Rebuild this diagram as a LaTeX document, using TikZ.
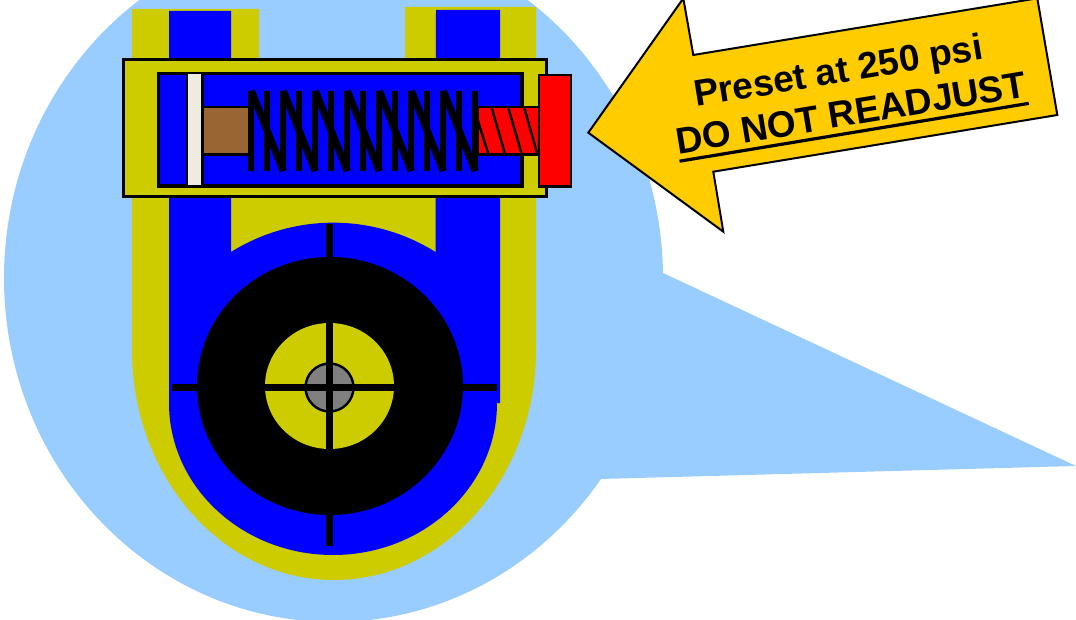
\documentclass[tikz,border=0pt]{standalone}
\usepackage{fontspec}
\setmainfont{Liberation Sans}
\usepackage{xcolor}
\usetikzlibrary{calc}
\definecolor{skyfill}{HTML}{99CCFF}
\definecolor{bodyyellow}{HTML}{CCCC00}
\definecolor{oilblue}{HTML}{0000FF}
\definecolor{tagorange}{HTML}{FFCC00}
\definecolor{rodbrown}{HTML}{996633}
\definecolor{pistonwhite}{HTML}{EEECE1}
\tikzset{
    housing/.style={draw=black, line width=2.6pt, fill=bodyyellow},
    chamber/.style={draw=black, line width=3.6pt, fill=oilblue},
    part/.style={draw=black, line width=2.4pt},
    coil/.style={black, line width=6.2pt},
    coildiag/.style={black, line width=7pt},
    thread/.style={black, line width=2.4pt},
    crosshair/.style={black, line width=7pt},
    tagtext/.style={font=\fontsize{37}{37}\selectfont\bfseries, inner xsep=0pt, inner ysep=6.5pt, rotate=9.4, anchor=base},
}

\begin{document}
\begin{tikzpicture}[x=1pt, y=-1pt]
    \clip (0,0) rectangle (1076,620);

    % Callout bubble
    \fill[skyfill] (333.5,278) circle[x radius=329.5, y radius=344];
    \fill[skyfill] (663,273) -- (1076,466) -- (600,479) -- (400,400) -- cycle;

    % Valve body
    \fill[bodyyellow] (132,9) -- (259,9) -- (259,60) -- (405,60) -- (405,7) -- (536,7) -- (536,350)
        arc[start angle=0, end angle=180, x radius=202, y radius=230] -- cycle;
    \fill[oilblue] (169,11) -- (231,11) -- (231,252) arc[start angle=-122, end angle=-58, radius=193]
        -- (436,10) -- (500,10) -- (500,403) -- (497,403)
        arc[start angle=0, end angle=180, x radius=164, y radius=152] -- cycle;

    % Rotor
    \fill[black] (330,386) circle[x radius=133, y radius=129];
    \fill[bodyyellow] (329.5,386) circle[x radius=64.5, y radius=63];
    \draw[part, fill=gray] (329.5,387.5) circle[radius=24];
    \draw[crosshair] (329,224) -- (329,546);
    \draw[crosshair] (171.5,387.3) -- (497,387.3);

    % Relief housing
    \draw[housing] (123.6,59.6) rectangle (546.6,196.4);
    \draw[chamber] (158.5,73.5) rectangle (522.2,185.9);
    \draw[part, fill=pistonwhite] (187,73) rectangle (202.5,186.5);
    \draw[part, fill=rodbrown] (202.5,107) rectangle (249,154.5);

    % Spring
    \foreach \k in {0,...,14} {
        \draw[coil] ({251+16*\k},90.7) -- ({251+16*\k},171);
    }
    \foreach \k in {0,2,...,12} {
        \draw[coildiag] ({251.3+16*\k},90.7) -- ({251.3+16*(\k+2)},171);
    }

    % Adjusting screw
    \draw[part, fill=red] (477.7,107) rectangle (539,154.5);
    \draw[thread] (477.7,120) -- (488.3,154);
    \draw[thread] (491.7,108) -- (505,154);
    \draw[thread] (508.3,108) -- (521.7,154);
    \draw[thread] (524.3,108) -- (537.3,154);
    \draw[part, fill=red] (539,75) rectangle (571,186.5);

    % Tag arrow
    \draw[black, line width=2pt, fill=tagorange, miter limit=10] (588.3,132.7) -- (683.3,-1.6) -- (693.3,55) -- (1037.3,-1.7)
        -- (1057.3,115) -- (713.3,171.7) -- (723.3,231.7) -- cycle;
    \node[tagtext] (preset) at (840.3,83) {Preset at 250 psi};
    \node[tagtext] (readjust) at (853,125.3) {DO NOT READJUST};
    \draw[black, line width=3.2pt] (readjust.south west) -- (readjust.south east);
\end{tikzpicture}
\end{document}
